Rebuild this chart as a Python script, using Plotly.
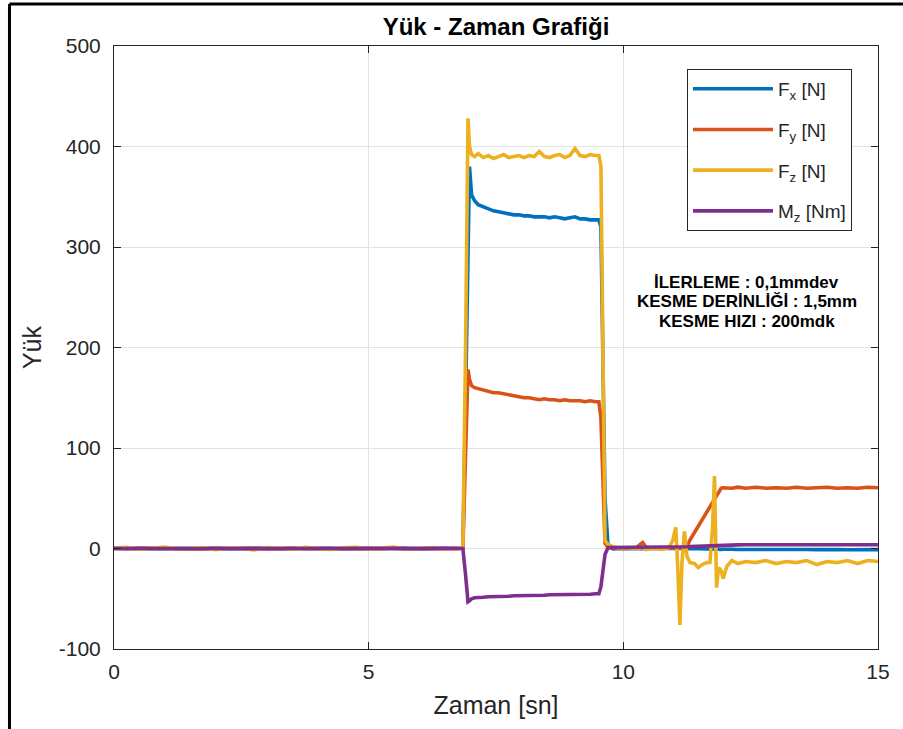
import plotly.graph_objects as go

# ---- data ----
t = [0.0, 0.25, 0.5, 0.75, 1.0, 1.25, 1.5, 1.75, 2.0, 2.25, 2.5, 2.75, 3.0, 3.25,
     3.5, 3.75, 4.0, 4.25, 4.5, 4.75, 5.0, 5.25, 5.5, 5.75, 6.0, 6.25, 6.5, 6.75,
     6.85, 6.9, 6.95, 6.98, 7.02, 7.08, 7.15, 7.25, 7.35, 7.45, 7.55, 7.65, 7.75,
     7.85, 7.95, 8.05, 8.15, 8.25, 8.35, 8.45, 8.55, 8.65, 8.75, 8.85, 8.95, 9.05,
     9.15, 9.25, 9.35, 9.45, 9.52,
     9.56, 9.6, 9.64, 9.7, 9.8, 9.95, 10.1, 10.25, 10.33, 10.38, 10.45, 10.6, 10.75, 10.9,
     10.97, 11.03, 11.07, 11.11, 11.15, 11.2, 11.25, 11.31, 11.4, 11.47, 11.55, 11.64,
     11.7, 11.75, 11.79, 11.83, 11.87, 11.92, 11.96, 12.03, 12.13, 12.25,
     12.4, 12.6, 12.8, 13.0, 13.2, 13.4, 13.6, 13.8, 14.0, 14.2, 14.4, 14.6, 14.8, 15.0]

fx = [0.1, -0.2, 0.3, 0.0, -0.3, 0.2, 0.4, -0.1, 0.1, -0.3, 0.2, 0.0, 0.3, -0.2,
      0.1, 0.2, -0.1, 0.3, -0.2, 0.0, 0.2, -0.3, 0.1, 0.3, -0.1, 0.0, 0.2, -0.2,
      0.5, 140, 330, 380, 352, 346, 342, 340, 338, 336, 335, 334, 333,
      332, 332, 331, 331, 330, 330, 330, 329, 330, 329, 328, 329, 330,
      328, 328, 327, 327, 327,
      320, 200, 50, 2, -0.5, 0.0, -0.3, 0.2, 0.0, -0.2, 0.1, -0.3, 0.0, 0.2,
      0.0, 0.3, -0.2, 0.0, 0.2, -0.3, 0.0, -0.2, 0.0, -0.3, -0.2, -0.5,
      -0.4, -0.6, -0.5, -0.8, -0.6, -0.9, -0.7, -1.0, -0.8, -1.0,
      -0.9, -1.1, -0.8, -1.0, -1.2, -0.9, -1.0, -1.1, -0.8, -1.0, -1.2, -0.9, -1.0, -1.1]

fy = [0.2, -0.3, 0.4, 0.1, -0.2, 0.3, 0.0, -0.4, 0.2, 0.5, -0.1, 0.3, -0.3, 0.1,
      0.4, -0.2, 0.2, 0.0, -0.3, 0.3, 0.1, -0.2, 0.4, 0.0, -0.1, 0.3, 0.2, -0.2,
      0.5, 80, 178, 168, 162, 160, 159, 157, 156, 155, 155, 154, 153,
      152, 151, 150, 150, 149, 148, 149, 148, 148, 147, 148, 147, 147,
      147, 146, 147, 146, 146,
      130, 50, 5, 1, 0.5, 0.0, 0.3, 0.5, 4, 6, 1, 0.0, 0.2, 0.0,
      0.0, 0.5, 0.0, 0.0, 0.5, 1, 2, 8.6, 16.4, 22.5, 29.3, 37,
      42.4, 46.6, 50, 53.6, 57, 60, 60.5, 60, 60, 61,
      60, 61, 60, 60.5, 60, 61, 60, 60.5, 61, 60, 60.5, 60, 61, 60.5]

fz = [0.5, 1.2, -0.8, 0.6, 1.5, -0.5, 0.3, 1.0, -1.2, 0.8, 0.2, -1.5, 0.9, 0.4,
      -0.6, 1.3, 0.1, -0.9, 0.7, 1.1, -0.4, 0.6, 1.4, -0.7, 0.3, 0.9, -0.3, 0.5,
      1.0, 190, 428, 400, 392, 390, 393, 389, 391, 388, 390, 392, 389,
      390, 391, 389, 391, 390, 395, 390, 389, 391, 392, 389, 391, 398,
      391, 390, 392, 391, 391,
      380, 160, 8, 4, 1.5, 0.5, 1.0, -0.5, 0.3, 1.0, -1.0, 0.5, -0.8, 1.0,
      8, 21, -20, -76, -15, 17, -8, -14, -15, -19, -16, -14,
      -14, 20, 72, -39, -19, -22, -30, -18, -12, -15,
      -13, -14, -12, -15, -13, -14, -12, -16, -13, -14, -12, -15, -12, -13]

mz = [0.0, 0.2, -0.1, 0.1, 0.0, -0.2, 0.1, 0.2, 0.0, -0.1, 0.1, 0.0, 0.2, -0.1,
      0.0, 0.1, -0.2, 0.0, 0.1, 0.2, -0.1, 0.0, 0.1, -0.1, 0.2, 0.0, 0.1, 0.0,
      0.0, -25, -53, -52, -50, -49, -48.5, -48.5, -48, -48, -47.5, -47.5, -47.5,
      -47, -47, -47, -46.5, -46.5, -46.5, -46.5, -46, -46, -46, -46, -45.5, -45.5,
      -45.5, -45.5, -45.5, -45, -45,
      -38, -20, -6, 1, 1, 1.2, 1.0, 1.3, 1.2, 1.0, 1.2, 1.3, 1.2, 1.3,
      1.3, 1.4, 1.3, 1.5, 1.5, 1.6, 1.7, 1.9, 2.1, 2.3, 2.5, 2.8,
      3.0, 3.1, 3.3, 3.4, 3.5, 3.6, 3.6, 3.6, 3.7, 3.6,
      3.7, 3.6, 3.8, 3.7, 3.6, 3.7, 3.8, 3.7, 3.6, 3.7, 3.8, 3.7, 3.6, 3.7]

series_names = ["F<sub>x</sub> [N]", "F<sub>y</sub> [N]", "F<sub>z</sub> [N]", "M<sub>z</sub> [Nm]"]
series_colors = ["#0072BD", "#D95319", "#EDB120", "#7E2F8E"]
x_ticks = [0, 5, 10, 15]
x_tick_text = ["0", "5", "10", "15"]
y_ticks = [-100, 0, 100, 200, 300, 400, 500]
y_tick_text = ["-100", "0", "100", "200", "300", "400", "500"]
note_lines = ["İLERLEME : 0,1mmdev", "KESME DERİNLİĞİ : 1,5mm", "KESME HIZI : 200mdk"]
note_y = [0.607, 0.5755, 0.5423]

FONT = "Liberation Sans, Arial"

fig = go.Figure()
for name, vals, col in zip(series_names, [fx, fy, fz, mz], series_colors):
    fig.add_trace(go.Scatter(x=t, y=vals, mode="lines", name=name, legendgroup=name,
                             line=dict(color=col, width=3.6)))

axis_font = dict(family=FONT, size=21, color="#262626")
notes = [dict(text="<b>" + line + "</b>", x=0.828, y=yy, xref="paper", yref="paper",
              xanchor="center", yanchor="middle", showarrow=False,
              font=dict(family=FONT, size=17, color="black"))
         for line, yy in zip(note_lines, note_y)]

fig.update_layout(
    width=903, height=729,
    margin=dict(l=114, r=25, t=46, b=80),
    paper_bgcolor="white", plot_bgcolor="white",
    title=dict(text="<b>Yük - Zaman Grafiği</b>", x=0.5, xref="paper", xanchor="center",
               y=1 - 27 / 729, yanchor="middle",
               font=dict(family=FONT, size=24, color="black")),
    showlegend=True,
    legend=dict(x=0.75, y=0.962, xanchor="left", yanchor="top",
                bgcolor="white", bordercolor="#262626", borderwidth=1,
                font=dict(family=FONT, size=19, color="#262626"),
                tracegroupgap=13, itemwidth=80),
    annotations=notes,
    shapes=[
        dict(type="line", xref="paper", yref="paper", x0=-0.1368, x1=-0.1368, y0=-0.2, y1=1.0697,
             line=dict(color="black", width=3)),
        dict(type="line", xref="paper", yref="paper", x0=-0.1368, x1=1.1, y0=1.0697, y1=1.0697,
             line=dict(color="black", width=3)),
    ],
)
fig.update_xaxes(range=[0, 15], tickvals=x_ticks, ticktext=x_tick_text, ticks="inside", ticklen=7,
                 tickcolor="#262626", ticklabelstandoff=4,
                 showline=True, linecolor="#262626", linewidth=1, mirror="ticks",
                 showgrid=True, gridcolor="#e3e3e3", zeroline=False, tickfont=axis_font,
                 title=dict(text="Zaman [sn]", font=dict(family=FONT, size=25, color="#262626"),
                            standoff=14))
fig.update_yaxes(range=[-100, 500], tickvals=y_ticks, ticktext=y_tick_text, ticks="inside", ticklen=7,
                 tickcolor="#262626", ticklabelstandoff=8,
                 showline=True, linecolor="#262626", linewidth=1, mirror="ticks",
                 showgrid=True, gridcolor="#e3e3e3", zeroline=False, tickfont=axis_font,
                 title=dict(text="Yük", font=dict(family=FONT, size=25, color="#262626"),
                            standoff=10))

fig.write_html("out.html")
